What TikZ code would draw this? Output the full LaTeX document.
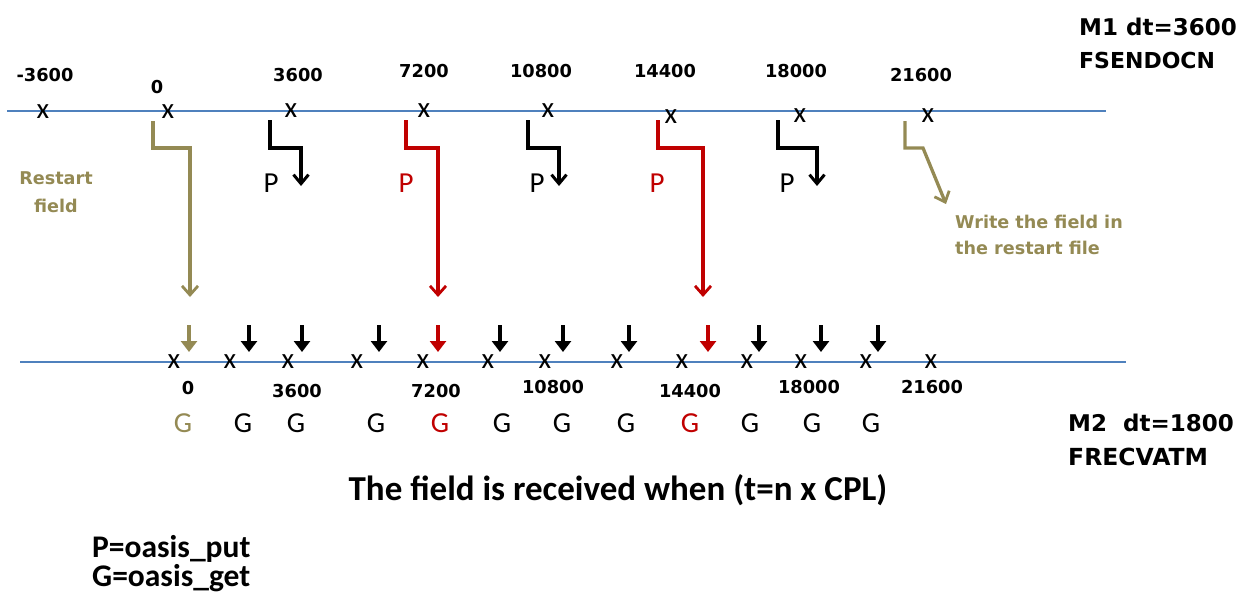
\documentclass[tikz,border=0pt]{standalone}
\usepackage{fontspec}
\setmainfont{Carlito}
\newfontfamily\vb{DejaVu Sans}
\usetikzlibrary{arrows.meta}
\definecolor{oliv}{RGB}{148,138,84}
\definecolor{dred}{RGB}{192,0,0}
\definecolor{axis}{RGB}{79,129,189}
\tikzset{
  num/.style={font=\vb\bfseries\fontsize{17.8}{20}\selectfont, inner sep=0pt},
  big/.style={font=\vb\bfseries\fontsize{23}{26}\selectfont, inner sep=0pt, anchor=west},
  xm/.style={font=\fontsize{29}{29}\selectfont, inner sep=0pt},
  pg/.style={font=\fontsize{29}{29}\selectfont, inner sep=0pt},
  note/.style={font=\vb\bfseries\fontsize{17.6}{20}\selectfont, inner sep=0pt, text=oliv},
  axisline/.style={axis, line width=1.1pt},
  hookblk/.style={line width=3.8pt, black, -{Straight Barb[length=9pt,width=15pt,line width=3pt]}},
  hookred/.style={line width=3.3pt, dred, -{Straight Barb[length=9pt,width=16pt,line width=2.8pt]}},
  hookoli/.style={line width=3.3pt, oliv, -{Straight Barb[length=9pt,width=16pt,line width=2.8pt]}},
  smallarr/.style={line width=3.8pt, -{Triangle[length=11pt,width=16pt]}},
}
\begin{document}
\begin{tikzpicture}[x=1pt,y=-1pt]
\useasboundingbox (0,0) rectangle (1249,592);
% axes
\coordinate (a1) at (7,111); \coordinate (a2) at (1106,111);
\coordinate (b1) at (20,362); \coordinate (b2) at (1126,362);
\draw[axisline] (a1) -- (a2);
\draw[axisline] (b1) -- (b2);
% top marks
\foreach \n/\x/\y in {m1/43/112, m2/168/112, m3/291/111, m4/424/111, m5/548/111, m6/671/117, m7/800/116, m8/928/116}
  \node[xm] (t\n) at (\x,\y) {x};
% top labels
\foreach \n/\x/\y/\t in {l1/45/75/-3600, l2/157/87/0, l3/298/75/3600, l4/424/71/7200, l5/541/71/10800, l6/665/71/14400, l7/796/71/18000, l8/921/75/21600}
  \node[num] (t\n) at (\x,\y) {\t};
% bottom marks
\foreach \n/\x in {1/174,2/230,3/288,4/357,5/423,6/488,7/545,8/617,9/682,10/747,11/801,12/866,13/931}
  \node[xm] (bm\n) at (\x,362) {x};
% bottom labels
\foreach \n/\x/\y/\t in {1/188/388/0, 2/297/391/3600, 3/436/391/7200, 4/553/387/10800, 5/690/391/14400, 6/809/387/18000, 7/932/387/21600}
  \node[num] (bl\n) at (\x,\y) {\t};
% G row
\foreach \n/\x/\c in {1/183/oliv,2/243/black,3/296/black,4/376/black,5/440/dred,6/502/black,7/562/black,8/626/black,9/690/dred,10/750/black,11/812/black,12/871/black}
  \node[pg, text=\c] (g\n) at (\x,423) {G};
% small arrows at M2
\foreach \n/\x/\c in {1/189/oliv,2/249/black,3/302/black,4/379/black,5/438/dred,6/500/black,7/563/black,8/629/black,9/708/dred,10/759/black,11/821/black,12/878/black}
  {\coordinate (sa\n) at (\x,325); \coordinate (sb\n) at (\x,352);
   \draw[smallarr, \c] (sa\n) -- (sb\n);}
% P labels
\node[pg] (p1) at (271,183) {P};
\node[pg, text=dred] (p2) at (406,183) {P};
\node[pg] (p3) at (537,183) {P};
\node[pg, text=dred] (p4) at (657,183) {P};
\node[pg] (p5) at (787,183) {P};
% black hooks
\foreach \n/\xa/\xb in {1/270/301, 3/528/559, 5/778/817}
  {\coordinate (hs\n) at (\xa,120); \coordinate (he\n) at (\xb,186);
   \draw[hookblk] (hs\n) |- (\xb,148) -- (he\n);}
% red long hooks
\coordinate (r1s) at (406,120); \coordinate (r1e) at (438,297);
\draw[hookred] (r1s) |- (438,148) -- (r1e);
\coordinate (r2s) at (658,120); \coordinate (r2e) at (703,297);
\draw[hookred] (r2s) |- (703,148) -- (r2e);
% olive hooks
\coordinate (o1s) at (153,121); \coordinate (o1e) at (190,297);
\draw[hookoli] (o1s) |- (190,148) -- (o1e);
\coordinate (o2s) at (905,121); \coordinate (o2e) at (946,204);
\draw[hookoli] (o2s) |- (923,148) -- (o2e);
% notes
\node[note] (rs1) at (56,178) {Restart};
\node[note] (rs2) at (56,206) {field};
\node[note, anchor=west] (w1) at (955,222) {Write the field in};
\node[note, anchor=west] (w2) at (955,248) {the restart file};
% right titles
\node[big] (m1a) at (1079,27) {M1 dt=3600};
\node[big, font=\vb\bfseries\fontsize{22}{26}\selectfont] (m1b) at (1079,60) {FSENDOCN};
\node[big] (m2a) at (1068,423) {M2\ \ dt=1800};
\node[big, font=\vb\bfseries\fontsize{23.5}{26}\selectfont] (m2b) at (1068,457) {FRECVATM};
% caption
\node[font=\bfseries\fontsize{35}{38}\selectfont, inner sep=0pt, anchor=base] (cap) at (618,500) {The field is received when (t=n x CPL)};
% legend
\node[font=\bfseries\fontsize{31.5}{33}\selectfont, inner sep=0pt, anchor=base west] (leg1) at (92,557.5) {P=oasis\_put};
\node[font=\bfseries\fontsize{31.5}{33}\selectfont, inner sep=0pt, anchor=base west] (leg2) at (92,586) {G=oasis\_get};
\end{tikzpicture}
\end{document}
